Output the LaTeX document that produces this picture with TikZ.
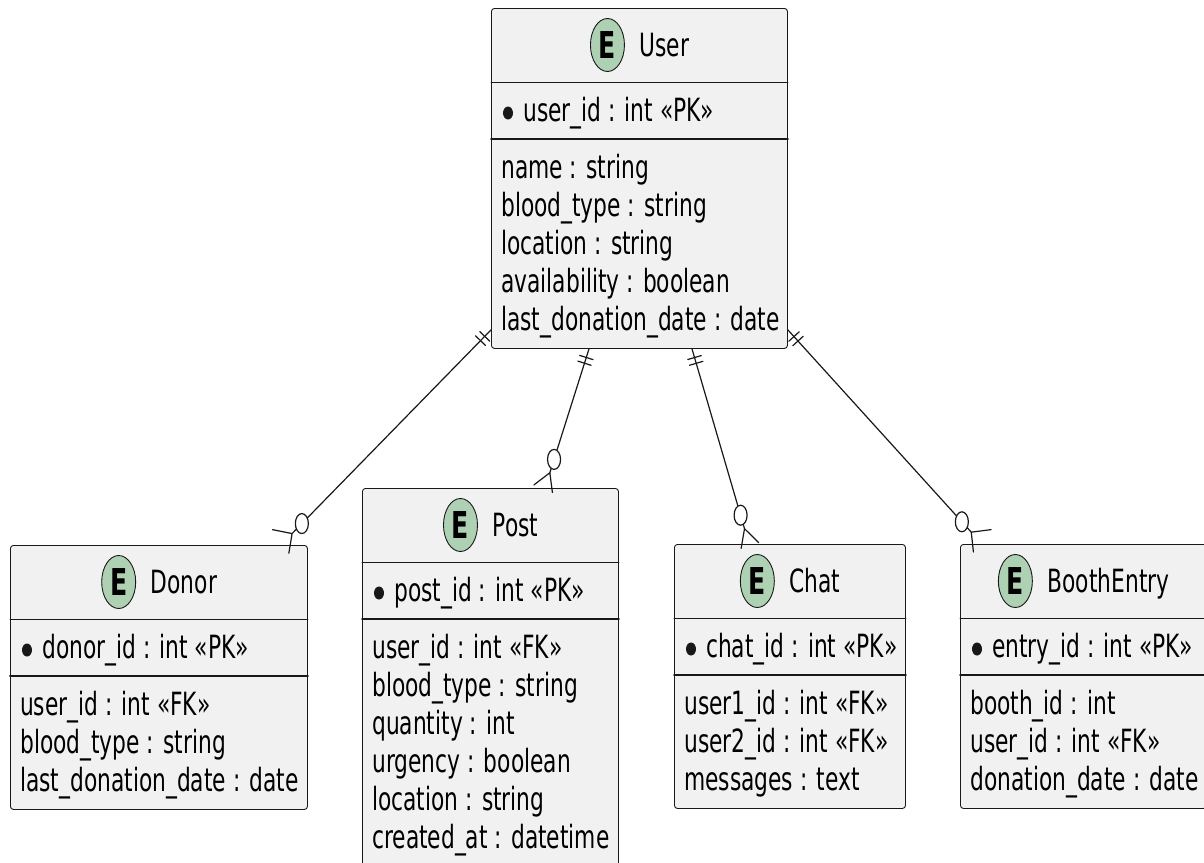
\documentclass[tikz,border=0pt]{standalone}
\usepackage{fontspec}
\setmainfont{DejaVu Sans}[FakeStretch=0.68]
\usetikzlibrary{calc,shapes.geometric}
\definecolor{linecol}{HTML}{181818}
\definecolor{boxfill}{HTML}{F1F1F1}
\definecolor{iconfill}{HTML}{ADD1B2}
\tikzset{
	entbox/.style={draw=linecol, fill=boxfill, rounded corners=3pt, line width=0.9pt, inner sep=0pt, anchor=north west},
	sepline/.style={draw=linecol, line width=0.9pt},
	pkline/.style={draw=linecol, line width=2pt},
	txt/.style={inner sep=0pt},
	enticon/.style={ellipse, draw=linecol, fill=iconfill, line width=0.9pt, minimum width=34pt, minimum height=53pt, inner sep=0pt, font=\fontsize{37}{37}\selectfont\bfseries},
	link/.style={draw=linecol, line width=1.2pt},
}
% name, x, y, width, title, key, attributes, number of attributes
\newcommand\erentity[8]{%
	\pgfmathsetmacro\enth{188+38*(#8-1)}%
	\node[entbox, minimum width=#4pt, minimum height=\enth pt] (#1) at (#2,#3) {};
	\draw[sepline] ($(#1.north west)+(0,74)$) -- ($(#1.north east)+(0,74)$);
	\draw[pkline] ($(#1.north west)+(0,131)$) -- ($(#1.north east)+(0,131)$);
	\node[txt, anchor=base] (#1title) at ($(#1.north)+(25,48)$) {#5};
	\node[enticon] (#1icon) at ($(#1title.base west)+(-32,-11)$) {E};
	\fill[linecol] ($(#1.north west)+(17,105)$) ellipse [x radius=5pt, y radius=6.5pt];
	\node[txt, anchor=base west] (#1pk) at ($(#1.north west)+(32,113)$) {#6};
	\foreach \t [count=\i from 0] in {#7}
		\node[txt, anchor=base west] (#1attr\i) at ($(#1.north west)+(10,170+38*\i)$) {\t};
}
% start, end, leg angles
\newcommand\erlink[4]{%
	\draw[link] (#1) -- ($(#2)!16pt!(#1)$);
	\draw[link] ($(#1)!9pt!(#2)!7pt!90:(#2)$) -- ($(#1)!9pt!(#2)!7pt!-90:(#2)$);
	\draw[link] ($(#1)!15pt!(#2)!7pt!90:(#2)$) -- ($(#1)!15pt!(#2)!7pt!-90:(#2)$);
	\draw[link, fill=white] ($(#2)!30pt!(#1)$) ellipse [x radius=6.5pt, y radius=10pt];
	\draw[link] ($(#2)!16pt!(#1)!20pt!#3:(#2)$) -- ($(#2)!16pt!(#1)$) -- ($(#2)!16pt!(#1)!20pt!#4:(#2)$);
}
\begin{document}
\begin{tikzpicture}[x=1pt, y=-1pt, font=\fontsize{32}{38}\selectfont, line join=round, line cap=round]
	\useasboundingbox (0,0) rectangle (1204,862);
	\erentity{user}{491}{8}{296}{User}{user\_id : int «PK»}{name : string, blood\_type : string, location : string, availability : boolean, last\_donation\_date : date}{5}
	\erentity{donor}{10}{545}{297}{Donor}{donor\_id : int «PK»}{user\_id : int «FK», blood\_type : string, last\_donation\_date : date}{3}
	\erentity{post}{362}{488}{256}{Post}{post\_id : int «PK»}{user\_id : int «FK», blood\_type : string, quantity : int, urgency : boolean, location : string, created\_at : datetime}{6}
	\erentity{chat}{674}{544}{231}{Chat}{chat\_id : int «PK»}{user1\_id : int «FK», user2\_id : int «FK», messages : text}{3}
	\erentity{booth}{960}{544}{246}{BoothEntry}{entry\_id : int «PK»}{booth\_id : int, user\_id : int «FK», donation\_date : date}{3}
	% end points of the links
	\coordinate (s1) at ($(user.south west)+(0,-19)$);
	\coordinate (e1) at ($(donor.north east)+(-27,0)$);
	\coordinate (s2) at ($(user.south west)+(98,0)$);
	\coordinate (e2) at ($(post.north west)+(183,0)$);
	\coordinate (s3) at ($(user.south west)+(201,0)$);
	\coordinate (e3) at ($(chat.north west)+(75,0)$);
	\coordinate (s4) at ($(user.south east)+(0,-19)$);
	\coordinate (e4) at ($(booth.north west)+(22,0)$);
	\erlink{s1}{e1}{-57}{35}
	\erlink{s2}{e2}{-35}{25}
	\erlink{s3}{e3}{29}{-26}
	\erlink{s4}{e4}{55}{-36}
\end{tikzpicture}
\end{document}
